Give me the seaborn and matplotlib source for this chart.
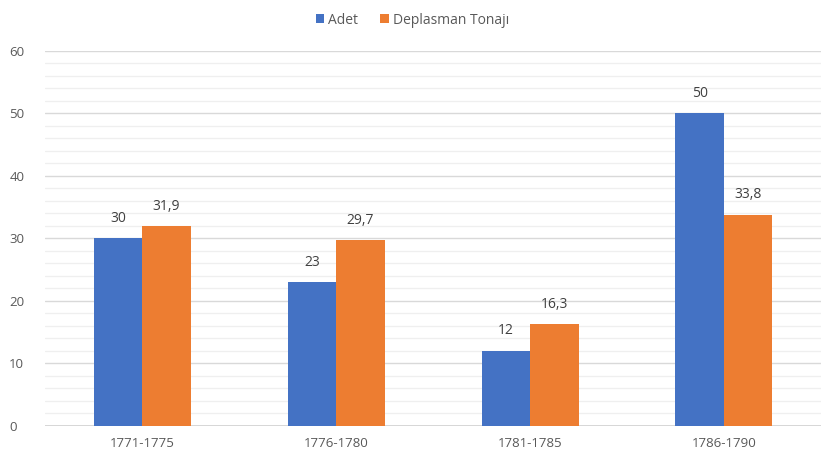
import matplotlib
matplotlib.use("Agg")
import matplotlib.pyplot as plt
import seaborn as sns
import pandas as pd
from matplotlib.ticker import MultipleLocator
from matplotlib.patches import Patch

categories = ["1771-1775", "1776-1780", "1781-1785", "1786-1790"]
series_names = ["Adet", "Deplasman Tonajı"]
adet = [30, 23, 12, 50]
tonaj = [31.9, 29.7, 16.3, 33.8]
colors = ["#4472C4", "#ED7D31"]

df = pd.DataFrame({
    "Dönem": categories * 2,
    "Seri": [series_names[0]] * 4 + [series_names[1]] * 4,
    "Değer": adet + tonaj,
})

sns.set_theme(style="white")
plt.rcParams['font.family'] = ['Open Sans', 'DejaVu Sans']
text_color = "#595959"

fig = plt.figure(figsize=(8.25, 4.66), dpi=100)
ax = fig.add_axes([0.055, 0.086, 0.94, 0.805])

sns.barplot(data=df, x="Dönem", y="Değer", hue="Seri", palette=colors,
            width=0.5, ax=ax, saturation=1, legend=False, errorbar=None,
            linewidth=0, edgecolor="none")

ax.set_ylim(0, 60)
ax.set_xlim(-0.5, 3.5)
ax.yaxis.set_major_locator(MultipleLocator(10))
ax.yaxis.set_minor_locator(MultipleLocator(2))
ax.grid(axis="y", which="major", color="#D9D9D9", linewidth=1.0, zorder=0)
ax.grid(axis="y", which="minor", color="#EFEFEF", linewidth=0.9, zorder=0)
ax.set_axisbelow(True)
for s in ax.spines.values():
    s.set_visible(False)
ax.axhline(0, color="#D0D0D0", linewidth=1.2, zorder=0.5)
ax.tick_params(axis="both", which="both", length=0, labelsize=9.5, colors=text_color)
ax.tick_params(axis="y", pad=26)
ax.tick_params(axis="x", pad=8)
for lbl in ax.get_yticklabels():
    lbl.set_horizontalalignment("left")
ax.set_xlabel("")
ax.set_ylabel("")

for cont in ax.containers:
    labels = [f"{b.get_height():g}".replace(".", ",") for b in cont]
    ax.bar_label(cont, labels=labels, padding=9, fontsize=10, color="#404040")

handles = [Patch(facecolor=c, edgecolor="none") for c in colors]
fig.legend(handles, series_names, loc="upper center", bbox_to_anchor=(0.5, 1.0),
           ncol=2, frameon=False, fontsize=10, handlelength=0.6, handleheight=0.6,
           handletextpad=0.3, columnspacing=1.6, labelcolor=text_color)

fig.savefig("out.png", dpi=100)
